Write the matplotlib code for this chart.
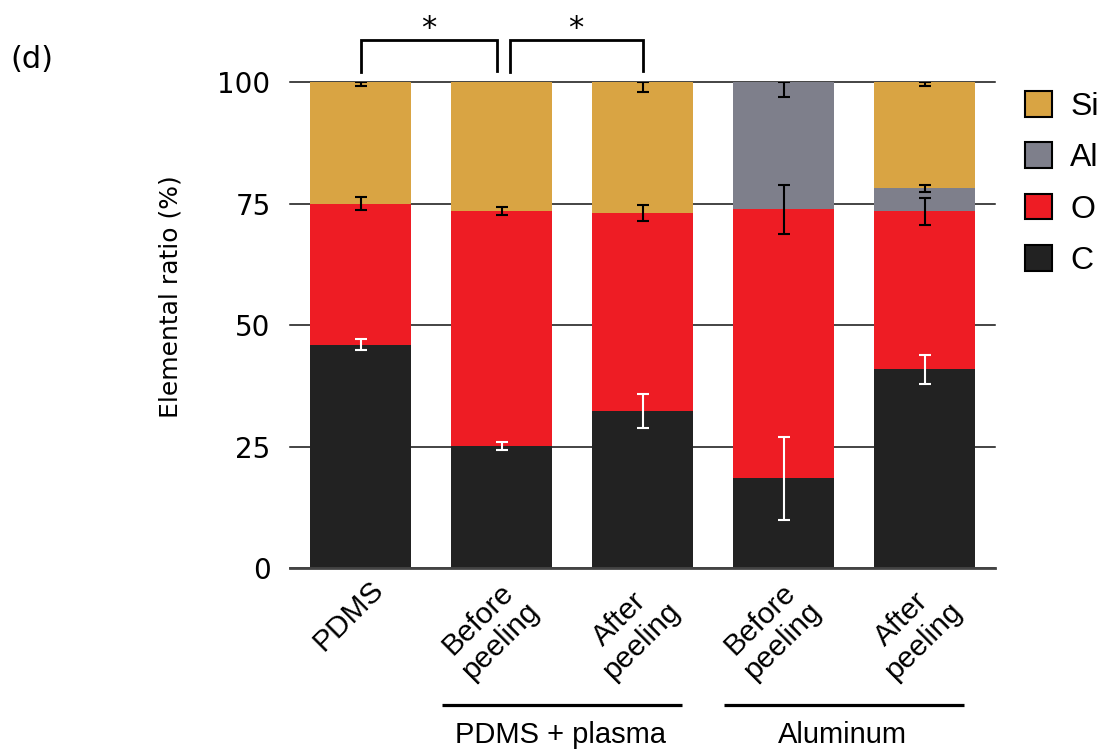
import numpy as np
import matplotlib
matplotlib.use('Agg')
import matplotlib.pyplot as plt
from matplotlib.patches import Patch
from matplotlib.transforms import ScaledTranslation

# samples (bottom-to-top stacking: C, O, Al, Si)
samples = ['PDMS', 'Before\npeeling', 'After\npeeling', 'Before\npeeling', 'After\npeeling']
c_val = [46.0, 25.2, 32.3, 18.5, 40.9]
o_val = [29.0, 48.3, 40.8, 55.3, 32.5]
al_val = [0.0, 0.0, 0.0, 26.2, 4.7]
si_val = [25.0, 26.5, 26.9, 0.0, 21.9]
c_err = [1.2, 0.8, 3.5, 8.5, 3.0]
o_err = [1.4, 0.8, 1.6, 5.1, 2.8]
al_err = [0.0, 0.0, 0.0, 3.1, 0.8]
si_err = [0.9, 0.0, 2.0, 0.0, 0.8]

groups = ['PDMS + plasma', 'Aluminum']
group_idx = [(1, 2), (3, 4)]
sig_pairs = [(0, 1), (1, 2)]
yticks = [0, 25, 50, 75, 100]

col_si = '#D9A443'
col_al = '#7E7F8B'
col_o = '#EE1C24'
col_c = '#222222'

fig = plt.figure(figsize=(11.06, 7.54), dpi=100)
ax = fig.add_axes([290/1106, (754-568.3)/754, 705/1106, 486.3/754])

x = np.arange(len(samples))
width = 0.715
layers = [('C', c_val, c_err, col_c, 'white'),
          ('O', o_val, o_err, col_o, 'black'),
          ('Al', al_val, al_err, col_al, 'black'),
          ('Si', si_val, si_err, col_si, 'black')]
bottom = np.zeros(len(samples))
for name, vals, errs, color, ecol in layers:
    vals = np.array(vals)
    errs = np.array(errs)
    ax.bar(x, vals, width, bottom=bottom, color=color, zorder=2)
    top = bottom + vals
    m = (vals > 0) & (errs > 0)
    upper = np.where(top >= 99.9, 0, errs)
    ax.errorbar(x[m], top[m], yerr=[errs[m], upper[m]], fmt='none', ecolor=ecol,
                elinewidth=1.5, capsize=4.5, capthick=1.5, zorder=3)
    bottom = top

ax.set_xlim(-0.5, 4.5)
ax.set_ylim(0, 100)
ax.set_yticks(yticks)
ax.set_yticklabels([str(t) for t in yticks], fontsize=20, family='DejaVu Sans')
ax.tick_params(axis='y', length=0, pad=14)
ax.yaxis.grid(True, color='#111111', linewidth=1.1)
for gl in ax.get_ygridlines():
    gl.set_clip_on(False)
ax.set_axisbelow(True)
for s in ['left', 'right', 'top']:
    ax.spines[s].set_visible(False)
ax.spines['bottom'].set_color('#444444')
ax.spines['bottom'].set_linewidth(2)

ax.set_xticks(x)
ax.set_xticklabels(samples, rotation=45, ha='center', va='top', fontsize=21.5,
                   family='Liberation Sans', linespacing=1.15)
ax.tick_params(axis='x', length=0, pad=5)
shift = ScaledTranslation(-12/100, 0, fig.dpi_scale_trans)
for lab in ax.get_xticklabels():
    lab.set_transform(lab.get_transform() + shift)

ax.set_ylabel('Elemental ratio (%)', fontsize=18, family='DejaVu Sans')
ax.yaxis.set_label_coords(-0.152, 0.558)

# group bars under labels
tr = ax.get_xaxis_transform()
for name, (a, b) in zip(groups, group_idx):
    ax.plot([a - 0.42, b + 0.28], [-0.281, -0.281], color='black', lw=2.3,
            transform=tr, clip_on=False, solid_capstyle='butt')
    ax.text((a + b) / 2 - 0.08, -0.343, name, transform=tr, ha='center', va='center',
            fontsize=21, family='Liberation Sans')

# significance brackets
for i, (a, b) in enumerate(sig_pairs):
    x0 = a + (0.06 if i > 0 else 0.0)
    x1 = b - (0.03 if i == 0 else 0.0)
    ax.plot([x0, x0, x1, x1], [102.1, 108.6, 108.6, 102.3], color='black', lw=2,
            clip_on=False, solid_joinstyle='miter')
    ax.text((x0 + x1) / 2, 109.3, '*', ha='center', va='baseline', fontsize=22,
            family='DejaVu Sans')

handles = [Patch(facecolor=c, edgecolor='black', linewidth=1.5)
           for c in [col_si, col_al, col_o, col_c]]
fig.legend(handles, ['Si', 'Al', 'O', 'C'], loc='upper left',
           bbox_to_anchor=(1025/1106, 1 - 91/754), frameon=False,
           prop={'family': 'Liberation Sans', 'size': 23},
           handlelength=0.86, handleheight=0.86, handletextpad=0.55,
           labelspacing=0.64, borderpad=0, borderaxespad=0)

fig.text(10/1106, 1 - 59/754, '(d)', fontsize=22, family='DejaVu Sans',
         ha='left', va='center')

fig.savefig('out.png', dpi=100)
